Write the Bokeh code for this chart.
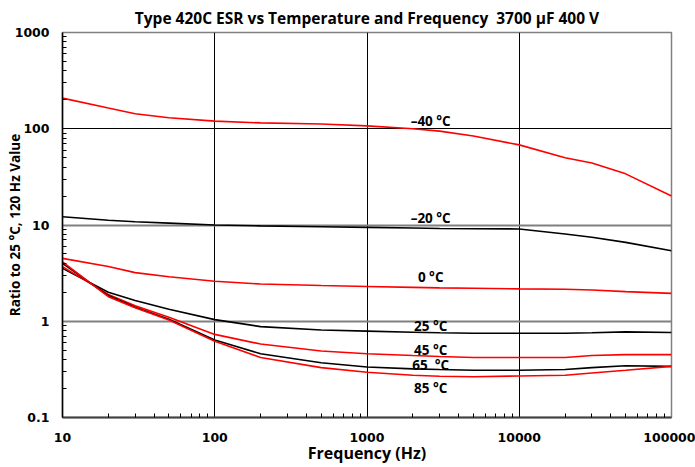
from bokeh.plotting import figure
from bokeh.models import Range1d, FixedTicker, Grid, Label
from bokeh.embed import file_html
from bokeh.resources import INLINE

freq = [10, 20, 30, 50, 100, 200, 500, 1000, 2000, 3000, 5000, 10000, 20000, 30000, 50000, 100000]

t_m40 = [208, 164, 143, 130, 120, 115, 112, 107, 100, 94.5, 84, 68, 50, 44, 34, 20]
t_m20 = [12.2, 11.2, 10.8, 10.45, 10.0, 9.8, 9.6, 9.45, 9.3, 9.2, 9.15, 9.1, 8.05, 7.45, 6.6, 5.4]
t_0 = [4.5, 3.7, 3.2, 2.9, 2.6, 2.44, 2.35, 2.3, 2.25, 2.22, 2.2, 2.17, 2.15, 2.11, 2.03, 1.95]
t_25 = [3.54, 2.0, 1.64, 1.33, 1.04, 0.88, 0.81, 0.79, 0.77, 0.76, 0.75, 0.75, 0.75, 0.76, 0.775, 0.765]
t_45 = [3.7, 1.9, 1.45, 1.1, 0.73, 0.58, 0.49, 0.46, 0.44, 0.43, 0.42, 0.42, 0.42, 0.44, 0.45, 0.45]
t_65 = [4.0, 1.85, 1.4, 1.05, 0.64, 0.46, 0.37, 0.335, 0.32, 0.315, 0.31, 0.31, 0.315, 0.33, 0.345, 0.34]
t_85 = [4.15, 1.8, 1.38, 1.03, 0.62, 0.42, 0.33, 0.295, 0.275, 0.268, 0.265, 0.27, 0.275, 0.29, 0.31, 0.34]

series = [
    ("–40 °C", t_m40, "#ff0000", 2620, 120),
    ("–20 °C", t_m20, "#000000", 2620, 11.9),
    ("0 °C", t_0, "#ff0000", 2620, 2.86),
    ("25 °C", t_25, "#000000", 2620, 0.887),
    ("45 °C", t_45, "#ff0000", 2620, 0.497),
    ("65\u00a0 °C", t_65, "#000000", 2620, 0.353),
    ("85 °C", t_85, "#ff0000", 2620, 0.201),
]

x_ticks = [10, 100, 1000, 10000, 100000]
x_tick_labels = ["10", "100", "1000", "10000", "100000"]
y_ticks = [0.1, 1, 10, 100, 1000]
y_tick_labels = ["0.1", "1", "10", "100", "1000"]

title_text = "Type 420C ESR vs Temperature and Frequency\u00a0 3700 µF 400 V"
x_title = "Frequency (Hz)"
y_title = "Ratio to 25 °C, 120 Hz Value"

def minors(ticks):
    out = []
    for t in ticks[:-1]:
        for m in range(2, 10):
            out.append(t * m)
    return out

p = figure(width=695, height=467, x_axis_type="log", y_axis_type="log",
           x_range=Range1d(10, 100000), y_range=Range1d(0.1, 1000),
           output_backend="svg", toolbar_location=None,
           min_border_left=62, min_border_right=24, min_border_top=31, min_border_bottom=50)

p.background_fill_color = "white"
p.border_fill_color = "white"
p.outline_line_color = "#808080"
p.outline_line_width = 1.5

p.title.text = title_text
p.title.align = "center"
p.title.text_font = "Open Sans"
p.title.text_font_style = "bold"
p.title.text_font_size = "15.5px"
p.title.text_color = "#000000"
p.title.standoff = 8

p.xaxis.ticker = FixedTicker(ticks=x_ticks, minor_ticks=minors(x_ticks))
p.yaxis.ticker = FixedTicker(ticks=y_ticks, minor_ticks=minors(y_ticks))
p.xaxis.major_label_overrides = {t: l for t, l in zip(x_ticks, x_tick_labels)}
p.yaxis.major_label_overrides = {t: l for t, l in zip(y_ticks, y_tick_labels)}

for ax in (p.xaxis, p.yaxis):
    ax.major_tick_in = 0
    ax.major_tick_out = 0
    ax.minor_tick_in = 4
    ax.minor_tick_out = 0
    ax.minor_tick_line_color = "#000000"
    ax.major_label_text_font = "DejaVu Sans"
    ax.major_label_text_font_style = "bold"
    ax.major_label_text_font_size = "12.5px"
    ax.major_label_text_color = "#000000"
    ax.axis_label_text_font = "Open Sans"
    ax.axis_label_text_font_style = "bold"
    ax.axis_label_text_color = "#000000"
p.xaxis.axis_label_text_font_size = "16px"
p.yaxis.axis_label_text_font_size = "13.5px"
p.xaxis.major_label_standoff = 15
p.yaxis.major_label_standoff = 13
p.xaxis.axis_label = x_title
p.yaxis.axis_label = y_title
p.xaxis.axis_label_standoff = -3
p.yaxis.axis_label_standoff = -12
p.xaxis.axis_line_color = "#404040"
p.xaxis.axis_line_width = 2
p.yaxis.axis_line_color = "#000000"
p.yaxis.axis_line_width = 1.5

p.xgrid.grid_line_color = None
p.ygrid.grid_line_color = None
p.add_layout(Grid(dimension=0, ticker=FixedTicker(ticks=[100, 1000, 10000]),
                  grid_line_color="#000000", grid_line_width=1))
p.add_layout(Grid(dimension=1, ticker=FixedTicker(ticks=[100]),
                  grid_line_color="#000000", grid_line_width=1.2))
p.add_layout(Grid(dimension=1, ticker=FixedTicker(ticks=[1, 10]),
                  grid_line_color="#808080", grid_line_width=2))

for name, vals, color, lx, ly in series:
    p.line(freq, vals, line_color=color, line_width=1.6)
    p.add_layout(Label(x=lx, y=ly, text=name, text_align="center", text_baseline="middle",
                       text_font="Open Sans", text_font_style="bold", text_font_size="13.5px",
                       text_color="#000000"))

open("out.html", "w").write(file_html(p, INLINE))
